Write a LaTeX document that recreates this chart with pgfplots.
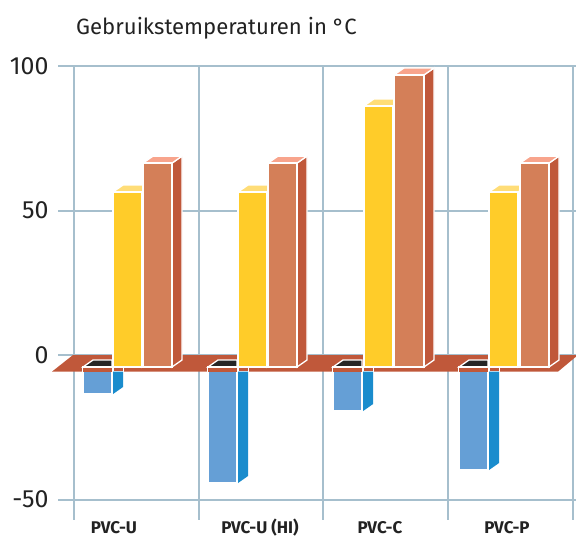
\documentclass[border=0pt]{standalone}
\usepackage{pgfplots}
\pgfplotsset{compat=1.18}
\usepackage{fontspec}
\setmainfont{Fira Sans}
\definecolor{gridc}{HTML}{A6BFCD}
\definecolor{yel}{HTML}{FFCC29}
\definecolor{yeltop}{HTML}{FFDD77}
\definecolor{org}{HTML}{D47F58}
\definecolor{orgtop}{HTML}{F8A48C}
\definecolor{rust}{HTML}{C0583A}
\definecolor{blu}{HTML}{659FD6}
\definecolor{blus}{HTML}{1A8CCD}
\definecolor{txt}{HTML}{222222}
\newcommand\poly[2]{\addplot[#1,forget plot] coordinates {#2} -- cycle;}
\newcommand\gl[1]{\addplot[gridc,line width=2bp,forget plot] coordinates {#1};}
% up bar: x0, x1, top value
\newcommand\upbar[6]{%
  \pgfmathsetmacro\xb{#2+10}\pgfmathsetmacro\xl{#1+10}\pgfmathsetmacro\tb{#3+2.42}%
  \poly{fill=#6,draw=white,line width=1.3bp}{(#2,-4.15)(\xb,-1.73)(\xb,\tb)(#2,#3)}%
  \poly{fill=#5,draw=white,line width=1.3bp}{(#1,#3)(\xl,\tb)(\xb,\tb)(#2,#3)}%
  \poly{fill=#4,draw=white,line width=1.3bp}{(#1,-4.15)(#2,-4.15)(#2,#3)(#1,#3)}%
}
% down bar: x0, x1, bottom value
\newcommand\downbar[3]{%
  \pgfmathsetmacro\xl{#1+10}\pgfmathsetmacro\xs{#2+1}\pgfmathsetmacro\xb{#2+11}\pgfmathsetmacro\bb{#3+2.42}%
  \poly{fill=black!85,draw=white,line width=1.3bp}{(#1,-4.15)(\xl,-1.73)(#2,-1.73)(#2,-4.15)}%
  \poly{fill=rust,draw=white,line width=1bp}{(\xs,-4.15)(\xb,-4.15)(\xb,-5.75)(\xs,-5.75)}%
  \poly{fill=blus,draw=none}{(\xs,-5.75)(\xb,-5.75)(\xb,\bb)(\xs,#3)}%
  \poly{fill=blu,draw=white,line width=1.3bp}{(#1,-4.15)(#2,-4.15)(#2,#3)(#1,#3)}%
  \poly{fill=rust,draw=none}{(#1,-4.4)(#2,-4.4)(#2,-5.75)(#1,-5.75)}%
}
\begin{document}
\begin{tikzpicture}
\useasboundingbox (-58bp,-16bp) rectangle (518bp,520bp);
\begin{axis}[
  x=1bp, y=2.89bp,
  xmin=58, xmax=576, ymin=-57.09, ymax=100,
  clip=false,
  axis line style={draw=none},
  major tick length=0pt,
  ytick={-50,0,50,100},
  xtick={114,260,380,507},
  xticklabels={PVC-U,PVC-U (HI),PVC-C,PVC-P},
  /pgf/number format/assume math mode=true,
  yticklabel style={font=\fontsize{25}{28}\selectfont,text=txt,xshift=-6bp},
  xticklabel style={font=\fontsize{17}{18}\selectfont\bfseries,text=txt,anchor=base,yshift=-13bp},
]
\gl{(58,100)(576,100)}
\gl{(58,50)(576,50)}
\gl{(58,0)(576,0)}
\gl{(58,-50)(576,-50)}
\gl{(73.5,100)(73.5,-57.09)}
\gl{(198.5,100)(198.5,-57.09)}
\gl{(323,100)(323,-57.09)}
\gl{(448,100)(448,-57.09)}
\gl{(573,100)(573,-57.09)}
\poly{fill=rust,draw=none}{(73,0)(578,0)(558,-5.75)(52,-5.75)}
\downbar{83}{112}{-13.5}
\upbar{113}{142}{56.4}{yel}{yeltop}{white}
\upbar{143}{172}{66.4}{org}{orgtop}{rust}
\downbar{208}{237}{-44.3}
\upbar{238}{267}{56.4}{yel}{yeltop}{white}
\upbar{268}{297}{66.4}{org}{orgtop}{rust}
\downbar{333}{362}{-19.4}
\upbar{364}{393}{86.2}{yel}{yeltop}{white}
\upbar{394}{424}{96.9}{org}{orgtop}{rust}
\downbar{459}{488}{-39.8}
\upbar{489}{518}{56.4}{yel}{yeltop}{white}
\upbar{520}{549}{66.4}{org}{orgtop}{rust}
\node[anchor=base west,inner sep=0pt,text=txt,font=\fontsize{22.2}{24}\selectfont] at (axis cs:76,111) {Gebruikstemperaturen in °C};
\end{axis}
\end{tikzpicture}
\end{document}
